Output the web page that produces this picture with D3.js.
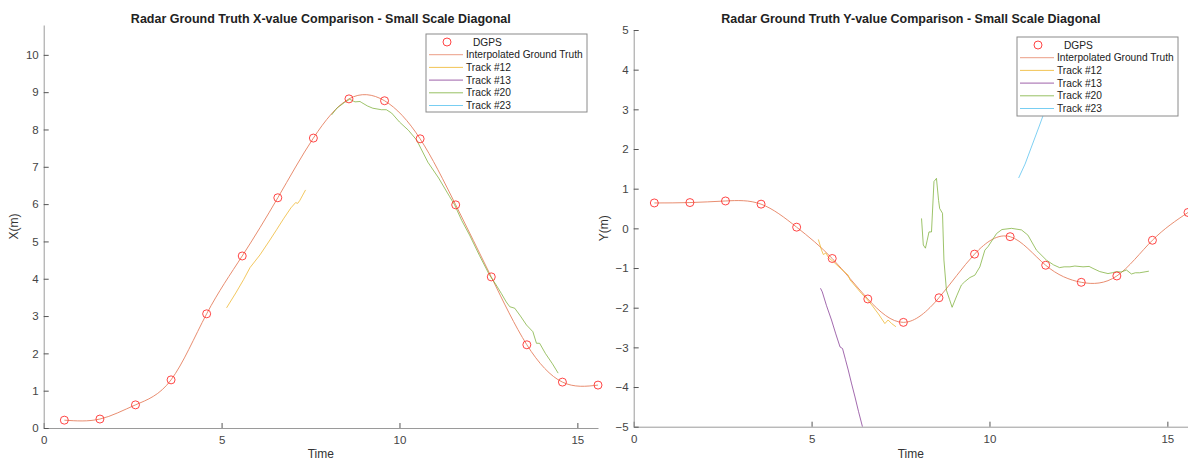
<!DOCTYPE html>
<html><head><meta charset="utf-8">
<script src="https://cdn.jsdelivr.net/npm/d3@7"></script>
<style>
body{margin:0;background:#fff}
svg{display:block;background:#fff}
text{font-family:"Liberation Sans",Arial,sans-serif}
</style>
</head><body>
<svg id="chart" width="1188" height="462"></svg>
<script>
// ---------- data ----------
const dgpsTime = [0.58,1.58,2.58,3.58,4.58,5.58,6.58,7.58,8.58,9.58,10.58,11.58,12.58,13.58,14.58,15.58];
const dgpsX = [0.21,0.24,0.62,1.29,3.06,4.61,6.17,7.77,8.82,8.77,7.75,5.98,4.05,2.23,1.23,1.15];
const dgpsY = [0.64,0.65,0.69,0.61,0.03,-0.76,-1.78,-2.37,-1.75,-0.65,-0.21,-0.93,-1.36,-1.20,-0.30,0.40];

// X-value tracks [time, X]
const xTrack12 = [[5.14,3.22],[5.40,3.62],[5.62,3.98],[5.80,4.30],[6.08,4.64],[6.36,5.04],[6.55,5.32],[6.75,5.62],[6.95,5.90],[7.08,6.04],[7.14,6.02],[7.20,6.10],[7.28,6.24],[7.36,6.38]];
const xTrack13 = [];
const xTrack20 = [[8.09,8.39],[8.25,8.58],[8.45,8.72],[8.60,8.81],[8.75,8.74],[8.89,8.75],[8.94,8.72],[9.10,8.63],[9.25,8.57],[9.49,8.53],[9.63,8.53],[9.78,8.44],[10.00,8.20],[10.25,7.98],[10.48,7.72],[10.80,7.12],[11.10,6.70],[11.41,6.20],[11.55,5.98],[11.75,5.56],[11.97,5.17],[12.25,4.62],[12.53,4.10],[12.70,3.86],[12.86,3.61],[13.00,3.38],[13.10,3.25],[13.24,3.21],[13.40,3.00],[13.57,2.76],[13.75,2.58],[13.85,2.27],[13.94,2.27],[14.10,2.00],[14.30,1.72],[14.46,1.47]];
const xTrack23 = [];

// Y-value tracks [time, Y]
const yTrack12 = [[5.19,-0.28],[5.28,-0.55],[5.33,-0.66],[5.40,-0.62],[5.48,-0.74],[5.61,-0.84],[5.80,-1.00],[6.03,-1.18],[6.08,-1.30],[6.25,-1.48],[6.40,-1.64],[6.55,-1.78],[6.69,-1.93],[6.88,-2.16],[7.06,-2.40],[7.15,-2.31],[7.25,-2.40],[7.37,-2.48]];
const yTrack13 = [[5.25,-1.51],[5.30,-1.60],[5.42,-1.95],[5.56,-2.31],[5.68,-2.66],[5.80,-2.99],[5.87,-3.03],[5.95,-3.30],[6.03,-3.57],[6.12,-3.90],[6.22,-4.25],[6.32,-4.62],[6.43,-5.00]];
const yTrack20 = [[8.09,0.25],[8.14,-0.42],[8.20,-0.50],[8.25,-0.30],[8.30,-0.09],[8.37,-0.09],[8.44,1.18],[8.51,1.26],[8.57,0.70],[8.60,0.50],[8.68,0.38],[8.72,-0.80],[8.79,-1.56],[8.88,-1.80],[8.95,-1.99],[9.08,-1.70],[9.21,-1.43],[9.30,-1.35],[9.45,-1.24],[9.59,-1.18],[9.73,-0.97],[9.87,-0.55],[9.96,-0.46],[10.20,-0.13],[10.35,-0.03],[10.62,0.00],[10.90,-0.04],[11.08,-0.17],[11.32,-0.55],[11.60,-0.80],[11.80,-0.92],[11.97,-0.99],[12.10,-0.97],[12.26,-0.97],[12.40,-0.95],[12.63,-0.97],[12.80,-0.96],[12.91,-1.01],[13.10,-1.09],[13.33,-1.14],[13.45,-1.12],[13.57,-1.09],[13.70,-1.10],[13.85,-1.05],[13.99,-1.15],[14.10,-1.12],[14.22,-1.12],[14.48,-1.08]];
const yTrack23 = [[10.82,1.27],[11.00,1.62],[11.20,2.10],[11.40,2.58],[11.55,2.95]];

const timeTicks = [0,5,10,15];
const xValueTicks = [0,1,2,3,4,5,6,7,8,9,10];
const yValueTicks = [-5,-4,-3,-2,-1,0,1,2,3,4,5];
const legendLabels = ["DGPS","Interpolated Ground Truth","Track #12","Track #13","Track #20","Track #23"];
const trackColors = ["#EDB120","#7E2F8E","#77AC30","#4DBEEE"];

// ---------- drawing ----------
const svg = d3.select("#chart");

function panel(cfg){
  const g = svg.append("g");
  const x = d3.scaleLinear().domain([0,15.58]).range([cfg.left,cfg.right]);
  const y = d3.scaleLinear().domain(cfg.yDomain).range([cfg.bottom,cfg.top]);
  const clipId = "clip"+cfg.id;
  svg.append("clipPath").attr("id",clipId).append("rect")
    .attr("x",cfg.left).attr("y",cfg.top).attr("width",cfg.right-cfg.left+8).attr("height",cfg.bottom-cfg.top);

  // axes
  const ax = g.append("g").attr("transform",`translate(0,${cfg.bottom})`)
    .call(d3.axisBottom(x).tickValues(timeTicks).tickFormat(d3.format("d")).tickSizeInner(-5).tickSizeOuter(0).tickPadding(8));
  const ay = g.append("g").attr("transform",`translate(${cfg.left},0)`)
    .call(d3.axisLeft(y).tickValues(cfg.yTicks).tickFormat(d3.format("d")).tickSizeInner(-5).tickSizeOuter(0).tickPadding(5));
  [ax,ay].forEach(a=>{
    a.select(".domain").attr("stroke","#9a9a9a").attr("stroke-width",1);
    a.selectAll(".tick line").attr("stroke","#555").attr("stroke-width",1);
    a.selectAll(".tick text").attr("fill","#444").style("font-size","11.5px");
  });

  // title and labels
  g.append("text").attr("x",(cfg.left+cfg.right)/2).attr("y",23).attr("text-anchor","middle")
    .style("font-size","12.5px").style("font-weight","bold").attr("fill","#222").text(cfg.title);
  g.append("text").attr("x",(cfg.left+cfg.right)/2).attr("y",458).attr("text-anchor","middle")
    .style("font-size","12px").attr("fill","#333").text("Time");
  g.append("text").attr("transform",`translate(${cfg.left-26},${(cfg.top+cfg.bottom)/2}) rotate(-90)`)
    .attr("text-anchor","middle").style("font-size","12px").attr("fill","#333").text(cfg.ylabel);

  const plot = g.append("g").attr("clip-path",`url(#${clipId})`);
  const gt = cfg.dgps.map((v,i)=>[dgpsTime[i],v]);
  plot.append("path").datum(gt)
    .attr("d",d3.line().x(d=>x(d[0])).y(d=>y(d[1])).curve(d3.curveNatural))
    .attr("fill","none").attr("stroke","#E58060").attr("stroke-width",0.9);
  cfg.tracks.forEach((tr,i)=>{
    if(!tr.length) return;
    plot.append("path").datum(tr)
      .attr("d",d3.line().x(d=>x(d[0])).y(d=>y(d[1])))
      .attr("fill","none").attr("stroke",trackColors[i]).attr("stroke-width",0.85).attr("stroke-opacity",0.85);
  });
  const cg = svg.append("g").attr("clip-path",`url(#${clipId})`);
  cg.selectAll("circle").data(gt).join("circle")
    .attr("cx",d=>x(d[0])).attr("cy",d=>y(d[1])).attr("r",4)
    .attr("fill","none").attr("stroke","#ff3030").attr("stroke-width",0.9);

  // legend
  const L = cfg.legend;
  const lg = svg.append("g");
  lg.append("rect").attr("x",L.x).attr("y",L.y).attr("width",161).attr("height",L.h)
    .attr("fill","#fff").attr("stroke","#8a8a8a").attr("stroke-width",1);
  const lineColors = ["#ff3030","#E58060"].concat(trackColors);
  legendLabels.forEach((lab,i)=>{
    const yy = L.y + 8 + i*12.7;
    if(i===0){
      lg.append("circle").attr("cx",L.x+21).attr("cy",yy).attr("r",4)
        .attr("fill","none").attr("stroke","#ff3030").attr("stroke-width",0.9);
    } else {
      lg.append("line").attr("x1",L.x+3).attr("x2",L.x+37).attr("y1",yy).attr("y2",yy)
        .attr("stroke",lineColors[i]).attr("stroke-width",0.9).attr("stroke-opacity",0.85);
    }
    lg.append("text").attr("x",L.x + (i===0?47:40)).attr("y",yy+3.5)
      .style("font-size","10.2px").attr("fill","#222").text(lab);
  });
}

panel({id:"L", left:43.7, right:598, top:25, bottom:428, yDomain:[0,10.8], yTicks:xValueTicks,
  title:"Radar Ground Truth X-value Comparison - Small Scale Diagonal", ylabel:"X(m)",
  dgps:dgpsX, tracks:[xTrack12,xTrack13,xTrack20,xTrack23], legend:{x:426,y:34,h:78}});
panel({id:"R", left:633.7, right:1188, top:30, bottom:426.7, yDomain:[-5,5], yTicks:yValueTicks,
  title:"Radar Ground Truth Y-value Comparison - Small Scale Diagonal", ylabel:"Y(m)",
  dgps:dgpsY, tracks:[yTrack12,yTrack13,yTrack20,yTrack23], legend:{x:1017,y:37,h:79}});
</script>
</body></html>
